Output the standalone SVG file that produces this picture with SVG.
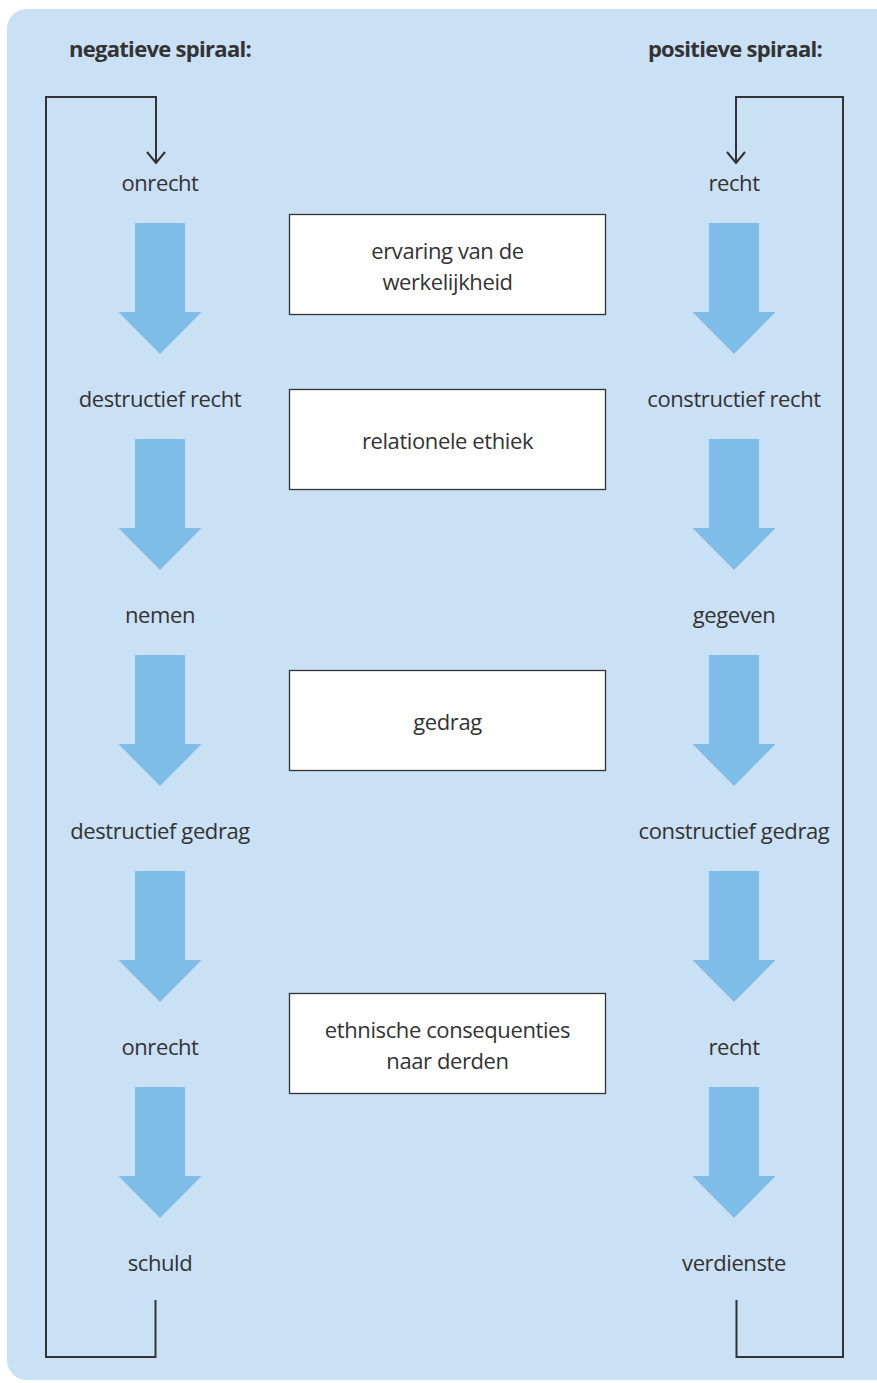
<svg xmlns="http://www.w3.org/2000/svg" width="877" height="1383" viewBox="0 0 877 1383">
<defs>
<style>
.lbl{font-family:"Open Sans","Noto Sans",sans-serif;font-size:22px;fill:#333;text-anchor:middle;letter-spacing:-0.4px}
.ttl{font-family:"Open Sans","Noto Sans",sans-serif;font-size:22px;font-weight:bold;fill:#333;text-anchor:middle;letter-spacing:-0.7px}
.box{fill:#fff;stroke:#333;stroke-width:1.3}
.loop{fill:none;stroke:#333;stroke-width:2}
.big{fill:#7dbde8}
</style>
<path id="ar" d="M-25,0 H25 V89 H41.5 L0,131 L-41.5,89 H-25 Z"/>
</defs>
<rect x="7" y="9" width="890" height="1371" rx="20" fill="#c9e0f5"/>
<g id="connectors">
<path class="loop" d="M155.5,1300 V1357 H46 V97 H156 V163"/>
<path class="loop" d="M147,152 L156,163 L165,152"/>
<path class="loop" d="M736.5,1300 V1357 H843 V97 H736 V163"/>
<path class="loop" d="M727,152 L736,163 L745,152"/>
<g class="big">
<use href="#ar" x="160" y="223"/>
<use href="#ar" x="160" y="439"/>
<use href="#ar" x="160" y="655"/>
<use href="#ar" x="160" y="871"/>
<use href="#ar" x="160" y="1087"/>
<use href="#ar" x="734" y="223"/>
<use href="#ar" x="734" y="439"/>
<use href="#ar" x="734" y="655"/>
<use href="#ar" x="734" y="871"/>
<use href="#ar" x="734" y="1087"/>
</g>
</g>
<g id="title-neg"><text class="ttl" x="160" y="57">negatieve spiraal:</text></g>
<g id="title-pos"><text class="ttl" x="735" y="57">positieve spiraal:</text></g>
<g id="n-onrecht1"><text class="lbl" x="160" y="191">onrecht</text></g>
<g id="n-destrecht"><text class="lbl" x="160" y="407">destructief recht</text></g>
<g id="n-nemen"><text class="lbl" x="160" y="623">nemen</text></g>
<g id="n-destgedrag"><text class="lbl" x="160" y="839">destructief gedrag</text></g>
<g id="n-onrecht2"><text class="lbl" x="160" y="1055">onrecht</text></g>
<g id="n-schuld"><text class="lbl" x="160" y="1271">schuld</text></g>
<g id="p-recht1"><text class="lbl" x="734" y="191">recht</text></g>
<g id="p-constrecht"><text class="lbl" x="734" y="407">constructief recht</text></g>
<g id="p-gegeven"><text class="lbl" x="734" y="623">gegeven</text></g>
<g id="p-constgedrag"><text class="lbl" x="734" y="839">constructief gedrag</text></g>
<g id="p-recht2"><text class="lbl" x="734" y="1055">recht</text></g>
<g id="p-verdienste"><text class="lbl" x="734" y="1271">verdienste</text></g>
<g id="box-ervaring"><rect class="box" x="289.5" y="214.5" width="316" height="100"/><text class="lbl" x="447.5" y="259">ervaring van de</text><text class="lbl" x="447.5" y="290">werkelijkheid</text></g>
<g id="box-relationele"><rect class="box" x="289.5" y="389.5" width="316" height="100"/><text class="lbl" x="447.5" y="449">relationele ethiek</text></g>
<g id="box-gedrag"><rect class="box" x="289.5" y="670.5" width="316" height="100"/><text class="lbl" x="447.5" y="730">gedrag</text></g>
<g id="box-ethnische"><rect class="box" x="289.5" y="993.5" width="316" height="100"/><text class="lbl" x="447.5" y="1038">ethnische consequenties</text><text class="lbl" x="447.5" y="1069">naar derden</text></g>
</svg>
